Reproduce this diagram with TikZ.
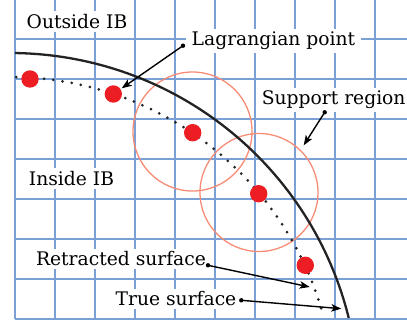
\documentclass[tikz,border=0pt]{standalone}
\usepackage{fontspec}
\setmainfont{DejaVu Serif}
\usetikzlibrary{arrows.meta}
\definecolor{gridblue}{RGB}{122,160,214}
\definecolor{dotred}{RGB}{236,30,36}
\definecolor{supportc}{RGB}{246,140,118}
\definecolor{curvec}{RGB}{35,35,35}
\tikzset{
  gridline/.style={draw=gridblue, line width=1.6pt},
  lbl/.style={fill=white, inner xsep=6pt, inner ysep=3pt, anchor=base,
    font=\fontsize{18.7}{21}\selectfont},
  lagpt/.style={fill=dotred, draw=none},
  supp/.style={draw=supportc, line width=1.3pt},
  pointer/.style={draw=black, line width=1.4pt,
    -{Stealth[length=10pt,width=7.5pt,inset=2.5pt]}},
  startdot/.style={fill=black},
}
\begin{document}
\begin{tikzpicture}[x=1pt,y=1pt]
\useasboundingbox (0,0) rectangle (407,324);
% grid
\foreach \gx in {15,55,...,375} { \draw[gridline] (\gx,5) -- (\gx,324); }
\foreach \gy in {5,45,...,285} { \draw[gridline] (15,\gy) -- (407,\gy); }
% labels
\node[lbl] (outside) at (77,295.7) {Outside IB};
\node[lbl] (lagr) at (273.5,278.5) {Lagrangian point};
\node[lbl] (supreg) at (333.7,219) {Support region};
\node[lbl] (inside) at (71.5,138.7) {Inside IB};
\node[lbl] (retr) at (121,58) {Retracted surface};
\node[lbl] (truesurf) at (176,18) {True surface};
% support regions
\draw[supp] (192.5,192.5) circle[radius=59.5pt];
\draw[supp] (259,131.5) circle[radius=59pt];
% surfaces (common centre at (10,-78))
\coordinate (cen) at (10,-78);
\draw[curvec, line width=2.3pt] ([shift={(89.18:349pt)}]cen) arc[start angle=89.18, end angle=13.93, radius=349pt];
\draw[curvec, line width=3pt, line cap=round, dash pattern=on 0pt off 9.3pt]
  ([shift={(88.9:325pt)}]cen) arc[start angle=88.9, end angle=16.1, radius=325pt];
% Lagrangian points
\foreach \px/\py [count=\i] in {30/245,113.3/230,192.7/191.3,258.7/130.3,305.3/58.7}
  { \fill[lagpt] (\px,\py) circle[radius=8.7pt]; \coordinate (lp\i) at (\px,\py); }
% pointers
\coordinate (aLs) at (183,278.3);  \coordinate (aLe) at (121.7,235.7);
\coordinate (aSs) at (324.7,211.7); \coordinate (aSe) at (303.7,178.7);
\coordinate (aRs) at (208,58.7);   \coordinate (aRe) at (309.7,37);
\coordinate (aTs) at (241.3,23.7); \coordinate (aTe) at (341.3,15.3);
\foreach \a in {aL,aS,aR,aT} {
  \draw[pointer] (\a s) -- (\a e);
  \fill[startdot] (\a s) circle[radius=2.2pt];
}
\end{tikzpicture}
\end{document}
